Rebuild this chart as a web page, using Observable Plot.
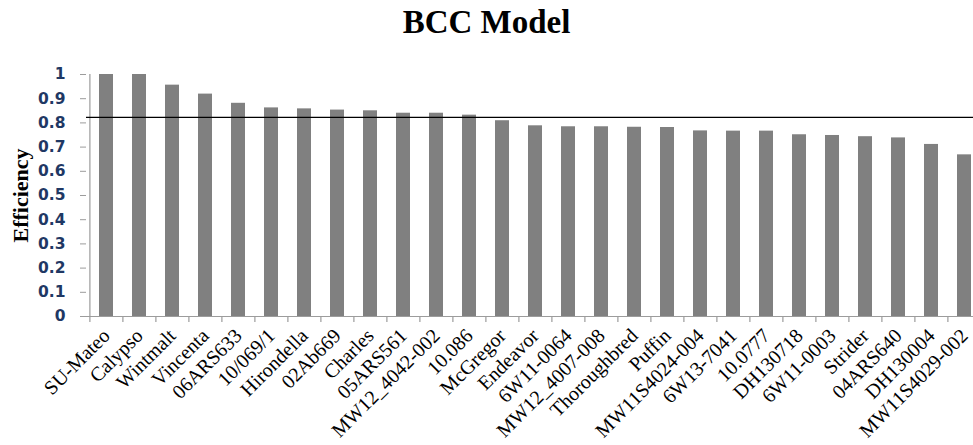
<!DOCTYPE html>
<html>
<head>
<meta charset="utf-8">
<script src="https://cdn.jsdelivr.net/npm/d3@7"></script>
<script src="https://cdn.jsdelivr.net/npm/@observablehq/plot@0.6"></script>
<style>
  html, body { margin: 0; padding: 0; background: #fff; overflow: hidden; }
  #title { width: 973px; height: 55px; box-sizing: border-box; padding-top: 4px; text-align: center;
    font: bold 33px/36px "Liberation Serif", "Times New Roman", serif; color: #000; }
  #chart { width: 983px; }
  #chart svg { display: block; max-width: none !important; }
</style>
</head>
<body>
<div id="title">BCC Model</div>
<div id="chart"></div>
<script>
const categories = ["SU-Mateo","Calypso","Wintmalt","Vincenta","06ARS633","10/069/1","Hirondella","02Ab669","Charles","05ARS561","MW12_4042-002","10.086","McGregor","Endeavor","6W11-0064","MW12_4007-008","Thoroughbred","Puffin","MW11S4024-004","6W13-7041","10.0777","DH130718","6W11-0003","Strider","04ARS640","DH130004","MW11S4029-002"];
const efficiency = [1.0,1.0,0.956,0.919,0.881,0.862,0.858,0.853,0.850,0.840,0.840,0.832,0.809,0.788,0.784,0.784,0.782,0.781,0.767,0.766,0.766,0.751,0.748,0.743,0.738,0.711,0.668];
const yTicks = [0,0.1,0.2,0.3,0.4,0.5,0.6,0.7,0.8,0.9,1];
const threshold = [0.823];
const yLabel = ["Efficiency"];

const data = categories.map((c, i) => ({name: c, value: efficiency[i]}));

const width = 983, height = 390, marginLeft = 86, marginRight = 0, marginTop = 19, marginBottom = 129;
const step = (width - marginLeft - marginRight) / categories.length;
const axisGray = "#9c9c9c";

const chart = Plot.plot({
  width, height, marginLeft, marginRight, marginTop, marginBottom,
  style: {maxWidth: "none"},
  x: {domain: categories, paddingInner: 0.58, paddingOuter: 0.29, label: null},
  y: {domain: [0, 1], label: null},
  marks: [
    Plot.barY(data, {x: "name", y: "value", fill: "#808080"}),
    Plot.ruleY([0], {stroke: axisGray, strokeWidth: 1.2}),
    Plot.ruleX(categories, {x: d => d, dx: -step / 2, y1: 0, y2: -0.025, stroke: axisGray, strokeWidth: 1.2}),
    Plot.ruleX([categories[0]], {x: d => d, dx: -step / 2, y1: 0, y2: 1, stroke: axisGray, strokeWidth: 1.2}),
    Plot.ruleY(threshold, {stroke: "#000", strokeWidth: 1.4}),
    Plot.axisY({ticks: yTicks, tickFormat: d => String(d), tickSize: 6, tickPadding: 15, stroke: axisGray,
      fill: "#1f3864", fontFamily: "DejaVu Sans", fontWeight: "bold", fontSize: 15.5, label: null}),
    Plot.axisX({tickRotate: -45, tickSize: 0, tickPadding: 16, fill: "#000",
      fontFamily: "Liberation Serif", fontSize: 20, label: null}),
    Plot.text(yLabel, {frameAnchor: "left", textAnchor: "middle", dx: -66, rotate: -90, fontFamily: "Liberation Serif",
      fontWeight: "bold", fontSize: 22, fill: "#000"})
  ]
});
document.getElementById("chart").appendChild(chart);
</script>
</body>
</html>
